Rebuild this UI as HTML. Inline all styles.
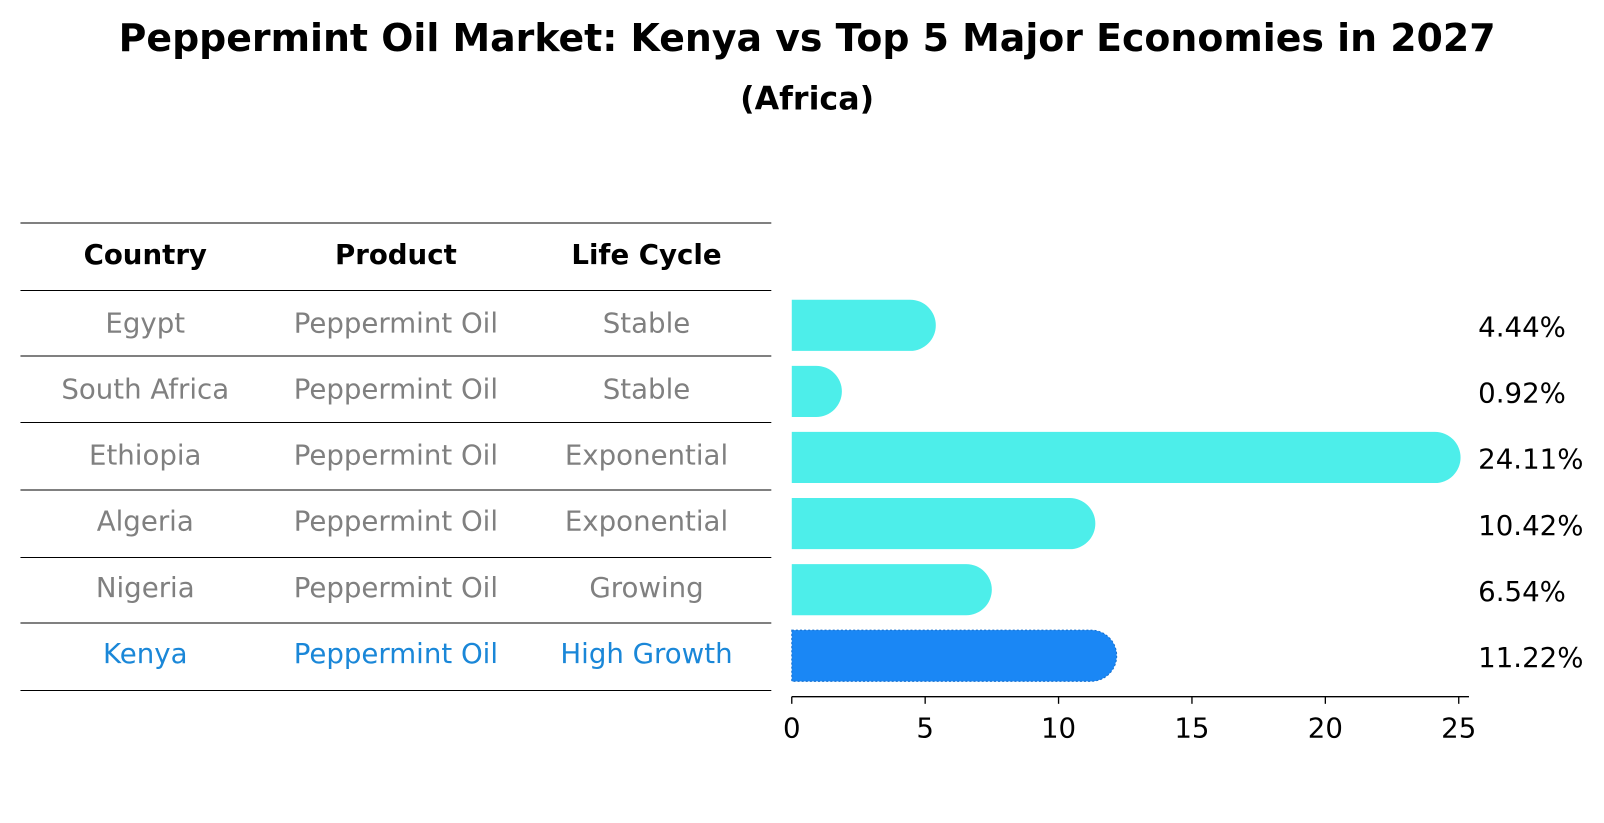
<!DOCTYPE html>
<html><head><meta charset="utf-8"><style>
body{margin:0;background:#fff;font-family:"DejaVu Sans","Liberation Sans",sans-serif;overflow:hidden;}
svg{display:block;}
svg text{font-family:"DejaVu Sans","Liberation Sans",sans-serif;}
</style></head><body>
<svg id="c" width="1604" height="823" viewBox="0 0 1568 804.5" preserveAspectRatio="none" xmlns="http://www.w3.org/2000/svg">
<text x="789" y="50" text-anchor="middle" font-size="37" font-weight="bold">Peppermint Oil Market: Kenya vs Top 5 Major Economies in 2027</text>
<text x="789" y="107" text-anchor="middle" font-size="31" font-weight="bold">(Africa)</text>
<g id="table"></g>
<g id="bars"></g>
</svg>
<script>
const countries=["Egypt","South Africa","Ethiopia","Algeria","Nigeria","Kenya"];
const products=["Peppermint Oil","Peppermint Oil","Peppermint Oil","Peppermint Oil","Peppermint Oil","Peppermint Oil"];
const lifecycle=["Stable","Stable","Exponential","Exponential","Growing","High Growth"];
const values=[4.44,0.92,24.11,10.42,6.54,11.22];
const ticks=[0,5,10,15,20,25];
const NS="http://www.w3.org/2000/svg";
function mk(tag,attrs,parent,txt){const e=document.createElementNS(NS,tag);for(const k in attrs)e.setAttribute(k,attrs[k]);if(txt!==undefined)e.textContent=txt;parent.appendChild(e);return e;}
const x0=774,pxu=26.08;
const xs=v=>x0+v*pxu;
const rowY=i=>316+i*64.6;
const FS=27;
const tbl=document.getElementById('table');
const lines=[218,284,348,413,479,545,609,675];
lines.forEach((y,i)=>{const l=mk('line',{x1:20,x2:754,y1:y,y2:y,stroke:'#000','stroke-width':1},tbl);

});
const cols=[142,387,632];
["Country","Product","Life Cycle"].forEach((h,j)=>{const t=mk('text',{x:cols[j],y:258,'text-anchor':'middle','font-size':FS,'font-weight':'bold'},tbl,h);

});
countries.forEach((c,i)=>{const col=c==="Kenya"?"#1a87d8":"#808080";
[c,products[i],lifecycle[i]].forEach((s,j)=>{const t=mk('text',{x:cols[j],y:rowY(i)+9,'text-anchor':'middle','font-size':FS,fill:col},tbl,s);

});});
const g=document.getElementById('bars');
const h=50,r=25;
values.forEach((v,i)=>{const cy=rowY(i)+2,xe=xs(v);const kenya=countries[i]==="Kenya";
const p=mk('path',{d:`M${x0},${cy-h/2} L${xe},${cy-h/2} A${r},${r} 0 0 1 ${xe},${cy+h/2} L${x0},${cy+h/2} Z`,fill:kenya?'#1a87f5':'#4deeea'},g);
if(kenya){p.setAttribute('stroke','#1570d0');p.setAttribute('stroke-dasharray','2,2');p.setAttribute('stroke-width','1');}


const t=mk('text',{x:1445,y:cy+11,'font-size':FS},g,v.toFixed(2)+'%');

});
const ax=mk('line',{x1:x0,x2:1436,y1:681,y2:681,stroke:'#000','stroke-width':1.3},g);


ticks.forEach(t=>{const tk=mk('line',{x1:xs(t),x2:xs(t),y1:681,y2:688,stroke:'#000','stroke-width':1.3},g);


const tl=mk('text',{x:xs(t),y:721,'text-anchor':'middle','font-size':FS},g,String(t));

});
</script>
</body></html>
